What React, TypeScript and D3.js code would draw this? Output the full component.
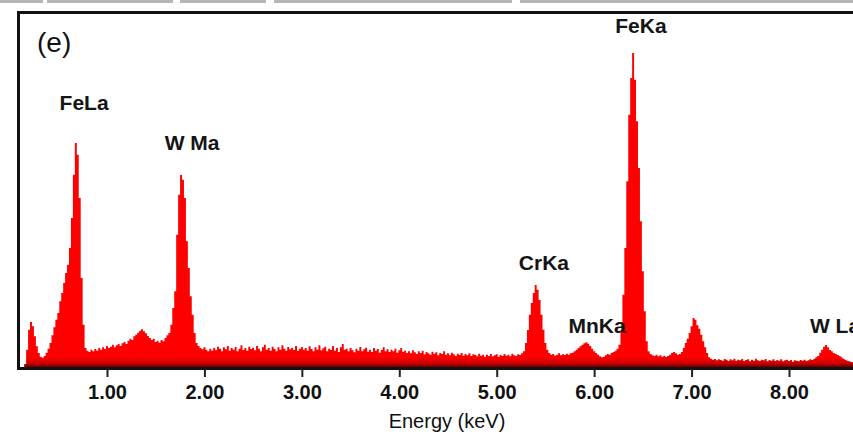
import { useRef, useEffect } from 'react';
import * as d3 from 'd3';

const W = 853;
const H = 434;
const FONT = "Arial, 'Liberation Sans', sans-serif";

// EDS channel grid (keV)
const CHANNEL_START = 0.1;
const CHANNEL_WIDTH = 0.02;

// counts per channel (rows of 0.2 keV)
const counts = [
  0, 0, 0, 12, 55, 115, 138, 125, 95, 65, // 0.10
  45, 34, 31, 36, 46, 58, 75, 98, 122, 145, // 0.30
  165, 200, 225, 255, 285, 310, 360, 450, 580, 675, // 0.50 FeLa
  640, 510, 270, 130, 60, 52, 48, 55, 50, 57, // 0.70
  52, 60, 55, 62, 57, 66, 60, 64, 70, 62, // 0.90
  68, 72, 66, 74, 78, 72, 82, 88, 84, 95, // 1.10
  100, 106, 112, 116, 110, 104, 96, 90, 84, 88, // 1.30
  78, 82, 76, 84, 80, 90, 98, 105, 130, 180, // 1.50
  230, 400, 520, 579, 565, 510, 380, 300, 215, 160, // 1.70 W Ma
  105, 75, 66, 60, 56, 62, 55, 50, 58, 52, // 1.90
  60, 54, 64, 58, 50, 62, 56, 66, 52, 60, // 2.10
  55, 63, 50, 58, 68, 54, 60, 52, 64, 57, // 2.30
  61, 53, 66, 58, 50, 62, 70, 55, 60, 52, // 2.50
  64, 57, 50, 62, 55, 68, 58, 52, 63, 56, // 2.70
  60, 54, 66, 51, 58, 63, 55, 60, 52, 65, // 2.90
  57, 50, 62, 55, 68, 53, 59, 64, 50, 58, // 3.10
  54, 66, 52, 60, 48, 62, 72, 55, 58, 50, // 3.30
  60, 53, 47, 58, 52, 63, 50, 56, 61, 49, // 3.50
  55, 48, 60, 52, 57, 46, 54, 62, 50, 56, // 3.70
  48, 55, 50, 58, 46, 53, 60, 49, 52, 45, // 3.90
  50, 44, 53, 47, 42, 50, 45, 52, 41, 48, // 4.10
  44, 40, 49, 43, 47, 38, 45, 42, 50, 40, // 4.30
  44, 38, 46, 41, 36, 43, 39, 45, 37, 42, // 4.50
  38, 44, 36, 41, 39, 35, 43, 37, 40, 34, // 4.70
  40, 36, 42, 35, 38, 41, 34, 39, 36, 42, // 4.90
  37, 40, 35, 43, 38, 36, 41, 39, 44, 50, // 5.10
  75, 114, 160, 195, 225, 249, 235, 204, 160, 115, // 5.30 CrKa
  75, 55, 45, 40, 42, 37, 40, 44, 38, 41, // 5.50
  39, 43, 40, 44, 46, 50, 55, 60, 65, 70, // 5.70
  74, 77, 73, 66, 58, 50, 45, 40, 35, 32, // 5.90 MnKa
  34, 38, 42, 40, 45, 48, 52, 58, 70, 110, // 6.10
  220, 360, 560, 760, 870, 945, 865, 740, 600, 440, // 6.30 FeKa
  290, 170, 80, 50, 42, 38, 36, 40, 35, 38, // 6.50
  34, 37, 33, 36, 40, 45, 48, 44, 40, 42, // 6.70
  48, 60, 75, 88, 105, 125, 150, 145, 128, 118, // 6.90 FeKb
  100, 80, 62, 45, 32, 28, 25, 27, 23, 26, // 7.10
  24, 22, 27, 25, 21, 26, 23, 28, 22, 25, // 7.30
  23, 27, 21, 24, 26, 20, 25, 22, 28, 23, // 7.50
  21, 25, 23, 27, 20, 24, 22, 26, 21, 24, // 7.70
  22, 26, 20, 23, 25, 21, 24, 19, 23, 22, // 7.90
  20, 24, 22, 25, 21, 23, 26, 24, 28, 32, // 8.10
  36, 46, 55, 64, 69, 62, 54, 50, 45, 42, // 8.30 W La
  39, 36, 32, 28, 25, 22, 20, 18, 17, // 8.50
];

const tickValues = [1, 2, 3, 4, 5, 6, 7, 8];

// peak labels, placed in data units (keV, counts)
const peakNames = ['FeLa', 'W Ma', 'FeKa', 'CrKa', 'MnKa', 'W La'];
const peakKeV = [0.765, 1.873, 6.48, 5.485, 6.03, 8.215];
const peakCounts = [774, 654, 1005, 294, 105, 105];
const peakAnchor = ['middle', 'middle', 'middle', 'middle', 'middle', 'start'];

// blurred caption remnants across the very top of the crop
const topStrip = [[0, 43], [47, 173], [180, 266], [274, 512], [520, 853]];

export default function App() {
  const svgRef = useRef(null);

  useEffect(() => {
    const svg = d3.select(svgRef.current);
    svg.selectAll('*').remove();

    const x = d3.scaleLinear().domain([0, 8]).range([9.57, 789]);
    const y = d3.scaleLinear().domain([0, 1068]).range([368, 12]);

    const data = counts.map((c, i) => ({ e: CHANNEL_START + i * CHANNEL_WIDTH, c }));

    const defs = svg.append('defs');
    const grad = defs.append('linearGradient')
      .attr('id', 'fillGrad').attr('gradientUnits', 'userSpaceOnUse')
      .attr('x1', 0).attr('y1', 357).attr('x2', 0).attr('y2', 368);
    grad.append('stop').attr('offset', 0).attr('stop-color', '#ff0000');
    grad.append('stop').attr('offset', 0.55).attr('stop-color', '#d00000');
    grad.append('stop').attr('offset', 1).attr('stop-color', '#4a0000');
    defs.append('clipPath').attr('id', 'plotClip')
      .append('rect').attr('x', 19).attr('y', 13).attr('width', W).attr('height', 355);

    svg.append('g').selectAll('rect').data(topStrip).enter()
      .append('rect')
      .attr('x', d => d[0]).attr('y', 0)
      .attr('width', d => d[1] - d[0]).attr('height', 3)
      .attr('fill', '#6e6e6e').attr('opacity', 0.5);

    const area = d3.area()
      .x(d => x(d.e))
      .y0(y(0))
      .y1(d => y(d.c))
      .curve(d3.curveStep);

    svg.append('path')
      .datum(data)
      .attr('d', area)
      .attr('fill', 'url(#fillGrad)')
      .attr('clip-path', 'url(#plotClip)');

    // frame
    svg.append('line').attr('x1', 17).attr('x2', W).attr('y1', 12.5).attr('y2', 12.5)
      .attr('stroke', '#111').attr('stroke-width', 3);
    svg.append('line').attr('x1', 18.5).attr('x2', 18.5).attr('y1', 11).attr('y2', 369.5)
      .attr('stroke', '#111').attr('stroke-width', 3);
    svg.append('line').attr('x1', 17).attr('x2', W).attr('y1', 368.5).attr('y2', 368.5)
      .attr('stroke', '#111').attr('stroke-width', 3);

    const ax = svg.append('g').attr('transform', 'translate(0,369)')
      .call(d3.axisBottom(x).tickValues(tickValues).tickSize(8).tickFormat(d3.format('.2f')));
    ax.select('.domain').remove();
    ax.selectAll('line').attr('stroke', '#222').attr('stroke-width', 2);
    ax.selectAll('text')
      .attr('y', 16)
      .attr('fill', '#111')
      .attr('font-family', FONT)
      .attr('font-weight', 'bold')
      .attr('font-size', '20px');

    svg.append('text')
      .attr('x', 447).attr('y', 428)
      .attr('text-anchor', 'middle')
      .attr('font-family', FONT).attr('font-size', '20px').attr('fill', '#111')
      .text('Energy (keV)');

    svg.append('text')
      .attr('x', 37).attr('y', 52)
      .attr('font-family', FONT).attr('font-size', '28px').attr('fill', '#111')
      .text('(e)');

    svg.append('g').selectAll('text').data(peakNames).enter()
      .append('text')
      .attr('x', (d, i) => x(peakKeV[i]))
      .attr('y', (d, i) => y(peakCounts[i]))
      .attr('text-anchor', (d, i) => peakAnchor[i])
      .attr('font-family', FONT).attr('font-weight', 'bold')
      .attr('font-size', '21px').attr('fill', '#151515')
      .text(d => d);
  }, []);

  return (
    <svg
      ref={svgRef}
      width={W}
      height={H}
      style={{ position: 'absolute', left: 0, top: 0, background: '#fff' }}
    />
  );
}
